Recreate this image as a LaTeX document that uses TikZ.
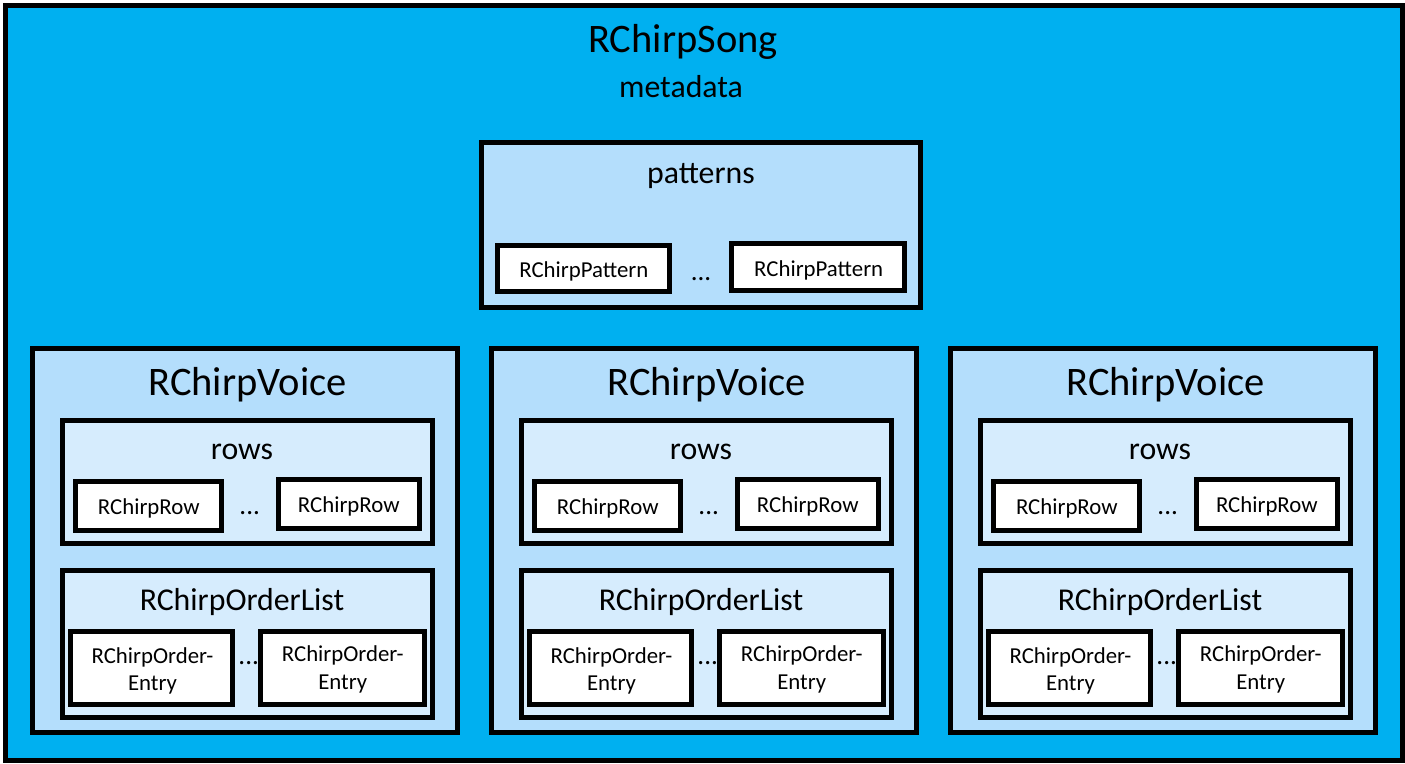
\documentclass[tikz,border=0pt]{standalone}
\usepackage{fontspec}
\setmainfont{Carlito}
\definecolor{songblue}{HTML}{00B0F0}
\definecolor{midblue}{HTML}{B4DEFC}
\definecolor{paleblue}{HTML}{D6ECFD}
\tikzset{
  box/.style={draw=black, line width=5pt, inner sep=0pt, outer sep=0pt, anchor=north west, rectangle},
  bigtxt/.style={font=\fontsize{40.5}{46}\selectfont, anchor=base, inner sep=0pt},
  midtxt/.style={font=\fontsize{31.8}{36}\selectfont, anchor=base, inner sep=0pt},
  smalltxt/.style={font=\fontsize{22.8}{27}\selectfont, anchor=base, inner sep=0pt},
  dotstxt/.style={font=\fontsize{27}{30}\selectfont, anchor=base, inner sep=0pt},
}
\newcommand\mkbox[6]{\node[box, fill=#6, minimum width={#4-(#2)-5}, minimum height={#5-(#3)-5}] (#1) at ({#2+2.5},{#3+2.5}) {};}
\begin{document}
\begin{tikzpicture}[x=1pt,y=-1pt]
\useasboundingbox (0,0) rectangle (1405,763);
\mkbox{song}{3}{3}{1405}{763}{songblue}
\node[bigtxt] (songt) at (683,52) {RChirpSong};
\node[midtxt] (meta) at (681,97) {metadata};
% patterns
\mkbox{pat}{479}{140}{923}{310}{midblue}
\node[midtxt] (patt) at (701,183) {patterns};
\mkbox{p1}{495}{243}{672}{294}{white}
\mkbox{p2}{729}{241}{907}{293}{white}
\node[smalltxt] (p1t) at (583.8,277) {RChirpPattern};
\node[smalltxt] (p2t) at (818.7,276) {RChirpPattern};
\node[dotstxt] (pdots) at (701,280) {...};
% voices
\foreach \i/\vx in {1/30,2/489,3/948}{
  \mkbox{v\i}{\vx}{346}{\vx+430}{735}{midblue}
  \node[bigtxt] (v\i t) at ({\vx+217.6},395) {RChirpVoice};
  \mkbox{v\i rows}{\vx+30}{418}{\vx+405}{546}{paleblue}
  \node[midtxt] (v\i rowst) at ({\vx+212},459) {rows};
  \mkbox{v\i r1}{\vx+43}{479}{\vx+194}{533}{white}
  \mkbox{v\i r2}{\vx+246}{477}{\vx+392}{531}{white}
  \node[smalltxt] (v\i r1t) at ({\vx+118.8},514) {RChirpRow};
  \node[smalltxt] (v\i r2t) at ({\vx+318.8},512) {RChirpRow};
  \node[dotstxt] (v\i rdots) at ({\vx+219.7},514) {...};
  \mkbox{v\i ol}{\vx+30}{568}{\vx+405}{720}{paleblue}
  \node[midtxt] (v\i olt) at ({\vx+212},610.7) {RChirpOrderList};
  \mkbox{v\i e1}{\vx+38}{629}{\vx+205}{707}{white}
  \mkbox{v\i e2}{\vx+228}{629}{\vx+397}{707}{white}
  \node[smalltxt] (v\i e1a) at ({\vx+122.5},663) {RChirpOrder-};
  \node[smalltxt] (v\i e1b) at ({\vx+122.5},690) {Entry};
  \node[smalltxt] (v\i e2a) at ({\vx+312.8},661.7) {RChirpOrder-};
  \node[smalltxt] (v\i e2b) at ({\vx+312.8},689) {Entry};
  \node[dotstxt] (v\i edots) at ({\vx+218.7},664) {...};
}
\end{tikzpicture}
\end{document}
